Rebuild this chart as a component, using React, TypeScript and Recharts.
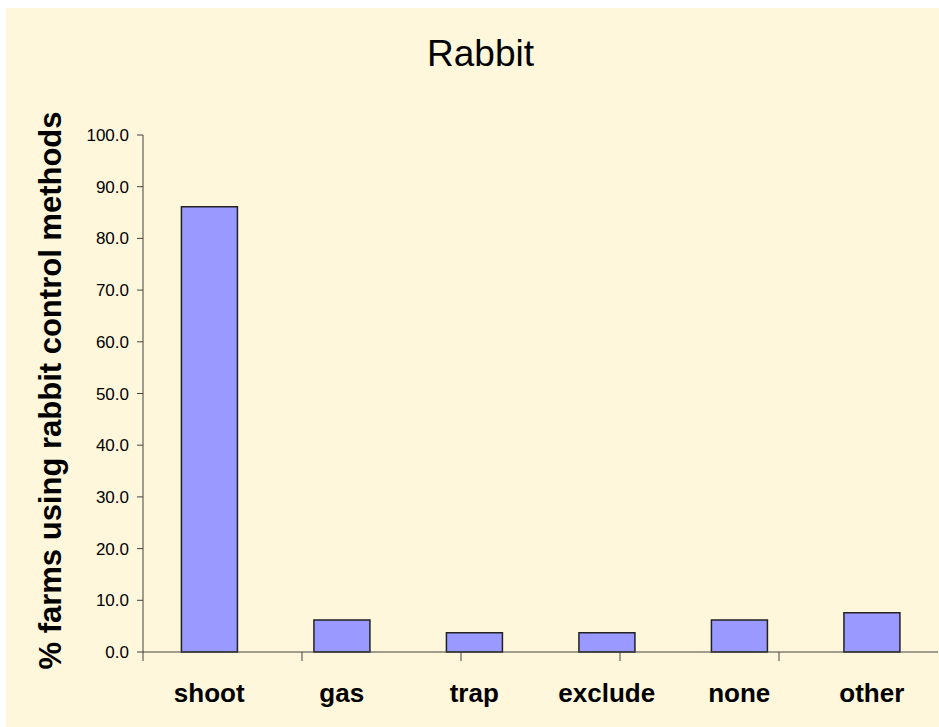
import { BarChart, Bar, XAxis, YAxis, Label } from 'recharts'

const methods = ['shoot', 'gas', 'trap', 'exclude', 'none', 'other']
const farmPct = [86.1, 6.2, 3.7, 3.7, 6.2, 7.6]
const yTicks = [0, 10, 20, 30, 40, 50, 60, 70, 80, 90, 100]
const boundaryTicks = [0, 1, 2, 3, 4, 5, 6]

const data = methods.map((m, i) => ({ method: m, pct: farmPct[i] }))

const FONT = '"Liberation Sans", Arial, sans-serif'

function YTitle({ viewBox }: { viewBox?: { x: number; y: number; width: number; height: number } }) {
  if (!viewBox) return null
  const cx = viewBox.x + 55
  const cy = viewBox.y + viewBox.height / 2 - 3
  return (
    <text
      x={cx}
      y={cy}
      transform={`rotate(-90 ${cx} ${cy})`}
      textAnchor="middle"
      fontFamily={FONT}
      fontWeight="bold"
      fontSize={31}
      fill="#000"
    >
      % farms using rabbit control methods
    </text>
  )
}

export default function App() {
  return (
    <div style={{ position: 'absolute', left: 6, top: 8, width: 933, height: 719, background: '#FFF7DC' }}>
      <BarChart
        width={933}
        height={719}
        data={data}
        margin={{ top: 127, right: 1, bottom: 0, left: 0 }}
        barCategoryGap="29%"
      >
        <text x={474.5} y={58} textAnchor="middle" fontFamily={FONT} fontSize={37} fill="#000">
          Rabbit
        </text>
        <XAxis
          xAxisId="b_cat"
          dataKey="method"
          height={74}
          axisLine={false}
          tickLine={false}
          tickSize={0}
          tickMargin={31}
          tick={{ fontSize: 26, fontWeight: 'bold', fill: '#000', fontFamily: FONT }}
        />
        {/* boundary tick marks between categories */}
        <XAxis
          xAxisId="a_edges"
          type="number"
          domain={[0, 6]}
          ticks={boundaryTicks}
          height={1}
          tick={() => <g />}
          tickSize={9}
          axisLine={{ stroke: '#404040' }}
          tickLine={{ stroke: '#404040' }}
          allowDataOverflow
        />
        <YAxis
          domain={[0, 100]}
          ticks={yTicks}
          width={137}
          tickSize={6}
          tickMargin={8}
          tickFormatter={(v: number) => v.toFixed(1)}
          tick={{ fontSize: 17, fill: '#000', fontFamily: FONT }}
          axisLine={{ stroke: '#404040' }}
          tickLine={{ stroke: '#404040' }}
        >
          <Label content={<YTitle />} />
        </YAxis>
        <Bar
          xAxisId="b_cat"
          dataKey="pct"
          fill="#9999FF"
          stroke="#222"
          strokeWidth={1.5}
          isAnimationActive={false}
        />
      </BarChart>
    </div>
  )
}
